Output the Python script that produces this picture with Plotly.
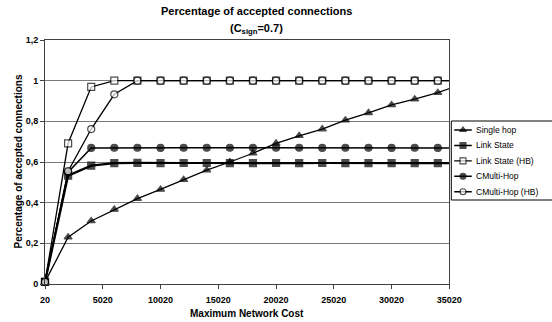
import plotly.graph_objects as go

x_cost = [20, 2020, 4020, 6020, 8020, 10020, 12020, 14020, 16020, 18020,
          20020, 22020, 24020, 26020, 28020, 30020, 32020, 34020, 36020]

single_hop = [0.01, 0.23, 0.31, 0.367, 0.42, 0.465, 0.513, 0.56, 0.60, 0.643,
              0.692, 0.729, 0.762, 0.806, 0.842, 0.881, 0.909, 0.941, 0.981]
link_state = [0.01, 0.533, 0.582, 0.594, 0.596, 0.594, 0.595, 0.595, 0.594, 0.594,
              0.595, 0.594, 0.595, 0.594, 0.594, 0.594, 0.594, 0.594, 0.594]
link_state_hb = [0.01, 0.692, 0.969, 1.0, 1.0, 1.0, 1.0, 1.0, 1.0, 1.0,
                 1.0, 1.0, 1.0, 1.0, 1.0, 1.0, 1.0, 1.0, 1.0]
cmulti_hop = [0.01, 0.55, 0.669, 0.67, 0.67, 0.669, 0.67, 0.67, 0.67, 0.67,
              0.67, 0.67, 0.669, 0.67, 0.67, 0.669, 0.67, 0.669, 0.669]
cmulti_hop_hb = [0.01, 0.555, 0.762, 0.933, 1.0, 1.0, 1.0, 1.0, 1.0, 1.0,
                 1.0, 1.0, 1.0, 1.0, 1.0, 1.0, 1.0, 1.0, 1.0]

series_names = ["Single hop", "Link State", "Link State (HB)", "CMulti-Hop", "CMulti-Hop (HB)"]
x_ticks = [20, 5020, 10020, 15020, 20020, 25020, 30020, 35020]
y_ticks = [0, 0.2, 0.4, 0.6, 0.8, 1.0, 1.2]
y_tick_labels = ["0", "0,2", "0,4", "0,6", "0,8", "1", "1,2"]

FONT = "Liberation Sans, Arial, sans-serif"

W, H = 552, 322
ML, MT, MB = 45, 40, 38
PLOT_RIGHT = 460
PAPER_W = W - ML
LEG_LEFT, LEG_TOP, LEG_BOTTOM = 462, 121, 200

styles = [
    dict(symbol="triangle-up", fill="black", size=7, lw=1.3),
    dict(symbol="square", fill="black", size=7, lw=2.2),
    dict(symbol="square", fill="white", size=7, lw=1.3),
    dict(symbol="circle", fill="black", size=7, lw=1.5),
    dict(symbol="circle", fill="white", size=7, lw=1.3),
]
data = [single_hop, link_state, link_state_hb, cmulti_hop, cmulti_hop_hb]

fig = go.Figure()
n = len(x_cost)
for name, ys, st in zip(series_names, data, styles):
    sizes = [st["size"]] * (n - 1) + [0]
    fig.add_trace(go.Scatter(
        x=x_cost, y=ys, name=name, mode="lines+markers",
        line=dict(color="black", width=st["lw"]),
        marker=dict(symbol=st["symbol"], color=st["fill"], size=sizes,
                    line=dict(color="black", width=1.2)),
        cliponaxis=False, showlegend=False, xaxis="x", yaxis="y",
    ))

# custom legend (key glyphs on a hidden helper axis, in pixel units)
annotations = []
item_step = (LEG_BOTTOM - LEG_TOP - 8) / 4.6
for i, (name, st) in enumerate(zip(series_names, styles)):
    yk = 9 + i * item_step
    fig.add_trace(go.Scatter(
        x=[3, 12, 21], y=[yk, yk, yk], mode="lines+markers",
        line=dict(color="black", width=min(st["lw"], 1.6)),
        marker=dict(symbol=st["symbol"], color=st["fill"], size=[0, 6, 0],
                    line=dict(color="black", width=1.1)),
        cliponaxis=False, showlegend=False, hoverinfo="skip",
        xaxis="x2", yaxis="y2",
    ))
    annotations.append(dict(
        text=name, x=23, y=yk, xref="x2", yref="y2", showarrow=False,
        xanchor="left", yanchor="middle",
        font=dict(size=8.5, family=FONT, color="black"),
    ))

annotations += [
    dict(text="<b>Percentage of accepted connections</b>", x=0.523, y=1.119,
         xref="x domain", yref="y domain", showarrow=False,
         font=dict(size=11, family=FONT, color="black"), xanchor="center", yanchor="middle"),
    dict(text="<b>(C<sub>sign</sub>=0.7)</b>", x=0.523, y=1.045,
         xref="x domain", yref="y domain", showarrow=False,
         font=dict(size=11, family=FONT, color="black"), xanchor="center", yanchor="middle"),
    dict(text="<b>Maximum Network Cost</b>", x=0.5, y=-0.12,
         xref="x domain", yref="y domain", showarrow=False,
         font=dict(size=10, family=FONT, color="black"), xanchor="center", yanchor="middle"),
    dict(text="<b>Percentage of accepted connections</b>", x=-0.068, y=0.5,
         xref="x domain", yref="y domain", showarrow=False, textangle=-90,
         font=dict(size=10, family=FONT, color="black"), xanchor="center", yanchor="middle"),
]

plot_h = H - MT - MB
leg_x0 = (LEG_LEFT - ML) / PAPER_W
leg_y0 = (H - MB - LEG_BOTTOM) / plot_h
leg_y1 = (H - MB - LEG_TOP) / plot_h

fig.update_layout(
    width=W, height=H,
    margin=dict(l=ML, r=0, t=MT, b=MB),
    paper_bgcolor="white", plot_bgcolor="white",
    font=dict(family=FONT, color="black"),
    showlegend=False,
    annotations=annotations,
    shapes=[dict(type="rect", xref="paper", yref="paper",
                 x0=leg_x0, x1=1.05, y0=leg_y0, y1=leg_y1,
                 line=dict(color="black", width=1), fillcolor="rgba(0,0,0,0)", layer="below")],
    xaxis=dict(
        domain=[0, (PLOT_RIGHT - ML) / PAPER_W], anchor="y",
        range=[20, 35020], tickvals=x_ticks, ticktext=[str(v) for v in x_ticks],
        showgrid=False, zeroline=False,
        showline=True, linecolor="#404040", linewidth=1, mirror=True,
        ticks="outside", ticklen=4, tickcolor="#404040",
        tickfont=dict(size=9, family=FONT, color="black", weight="bold"),
        ticklabelstandoff=3,
    ),
    yaxis=dict(
        domain=[0, 1], anchor="x",
        range=[0, 1.2], tickvals=y_ticks, ticktext=y_tick_labels,
        showgrid=True, gridcolor="#7a7a7a", gridwidth=1, zeroline=False,
        showline=True, linecolor="#404040", linewidth=1, mirror=True,
        ticks="outside", ticklen=4, tickcolor="#404040",
        tickfont=dict(size=9, family=FONT, color="black", weight="bold"),
    ),
    xaxis2=dict(domain=[leg_x0, 1], anchor="y2", range=[0, W - LEG_LEFT],
                visible=False, fixedrange=True),
    yaxis2=dict(domain=[leg_y0, leg_y1], anchor="x2", range=[LEG_BOTTOM - LEG_TOP, 0],
                visible=False, fixedrange=True),
)

fig.write_html("out.html", config={"displayModeBar": False},
               post_script="document.body.style.margin='0';document.body.style.overflow='hidden';")
